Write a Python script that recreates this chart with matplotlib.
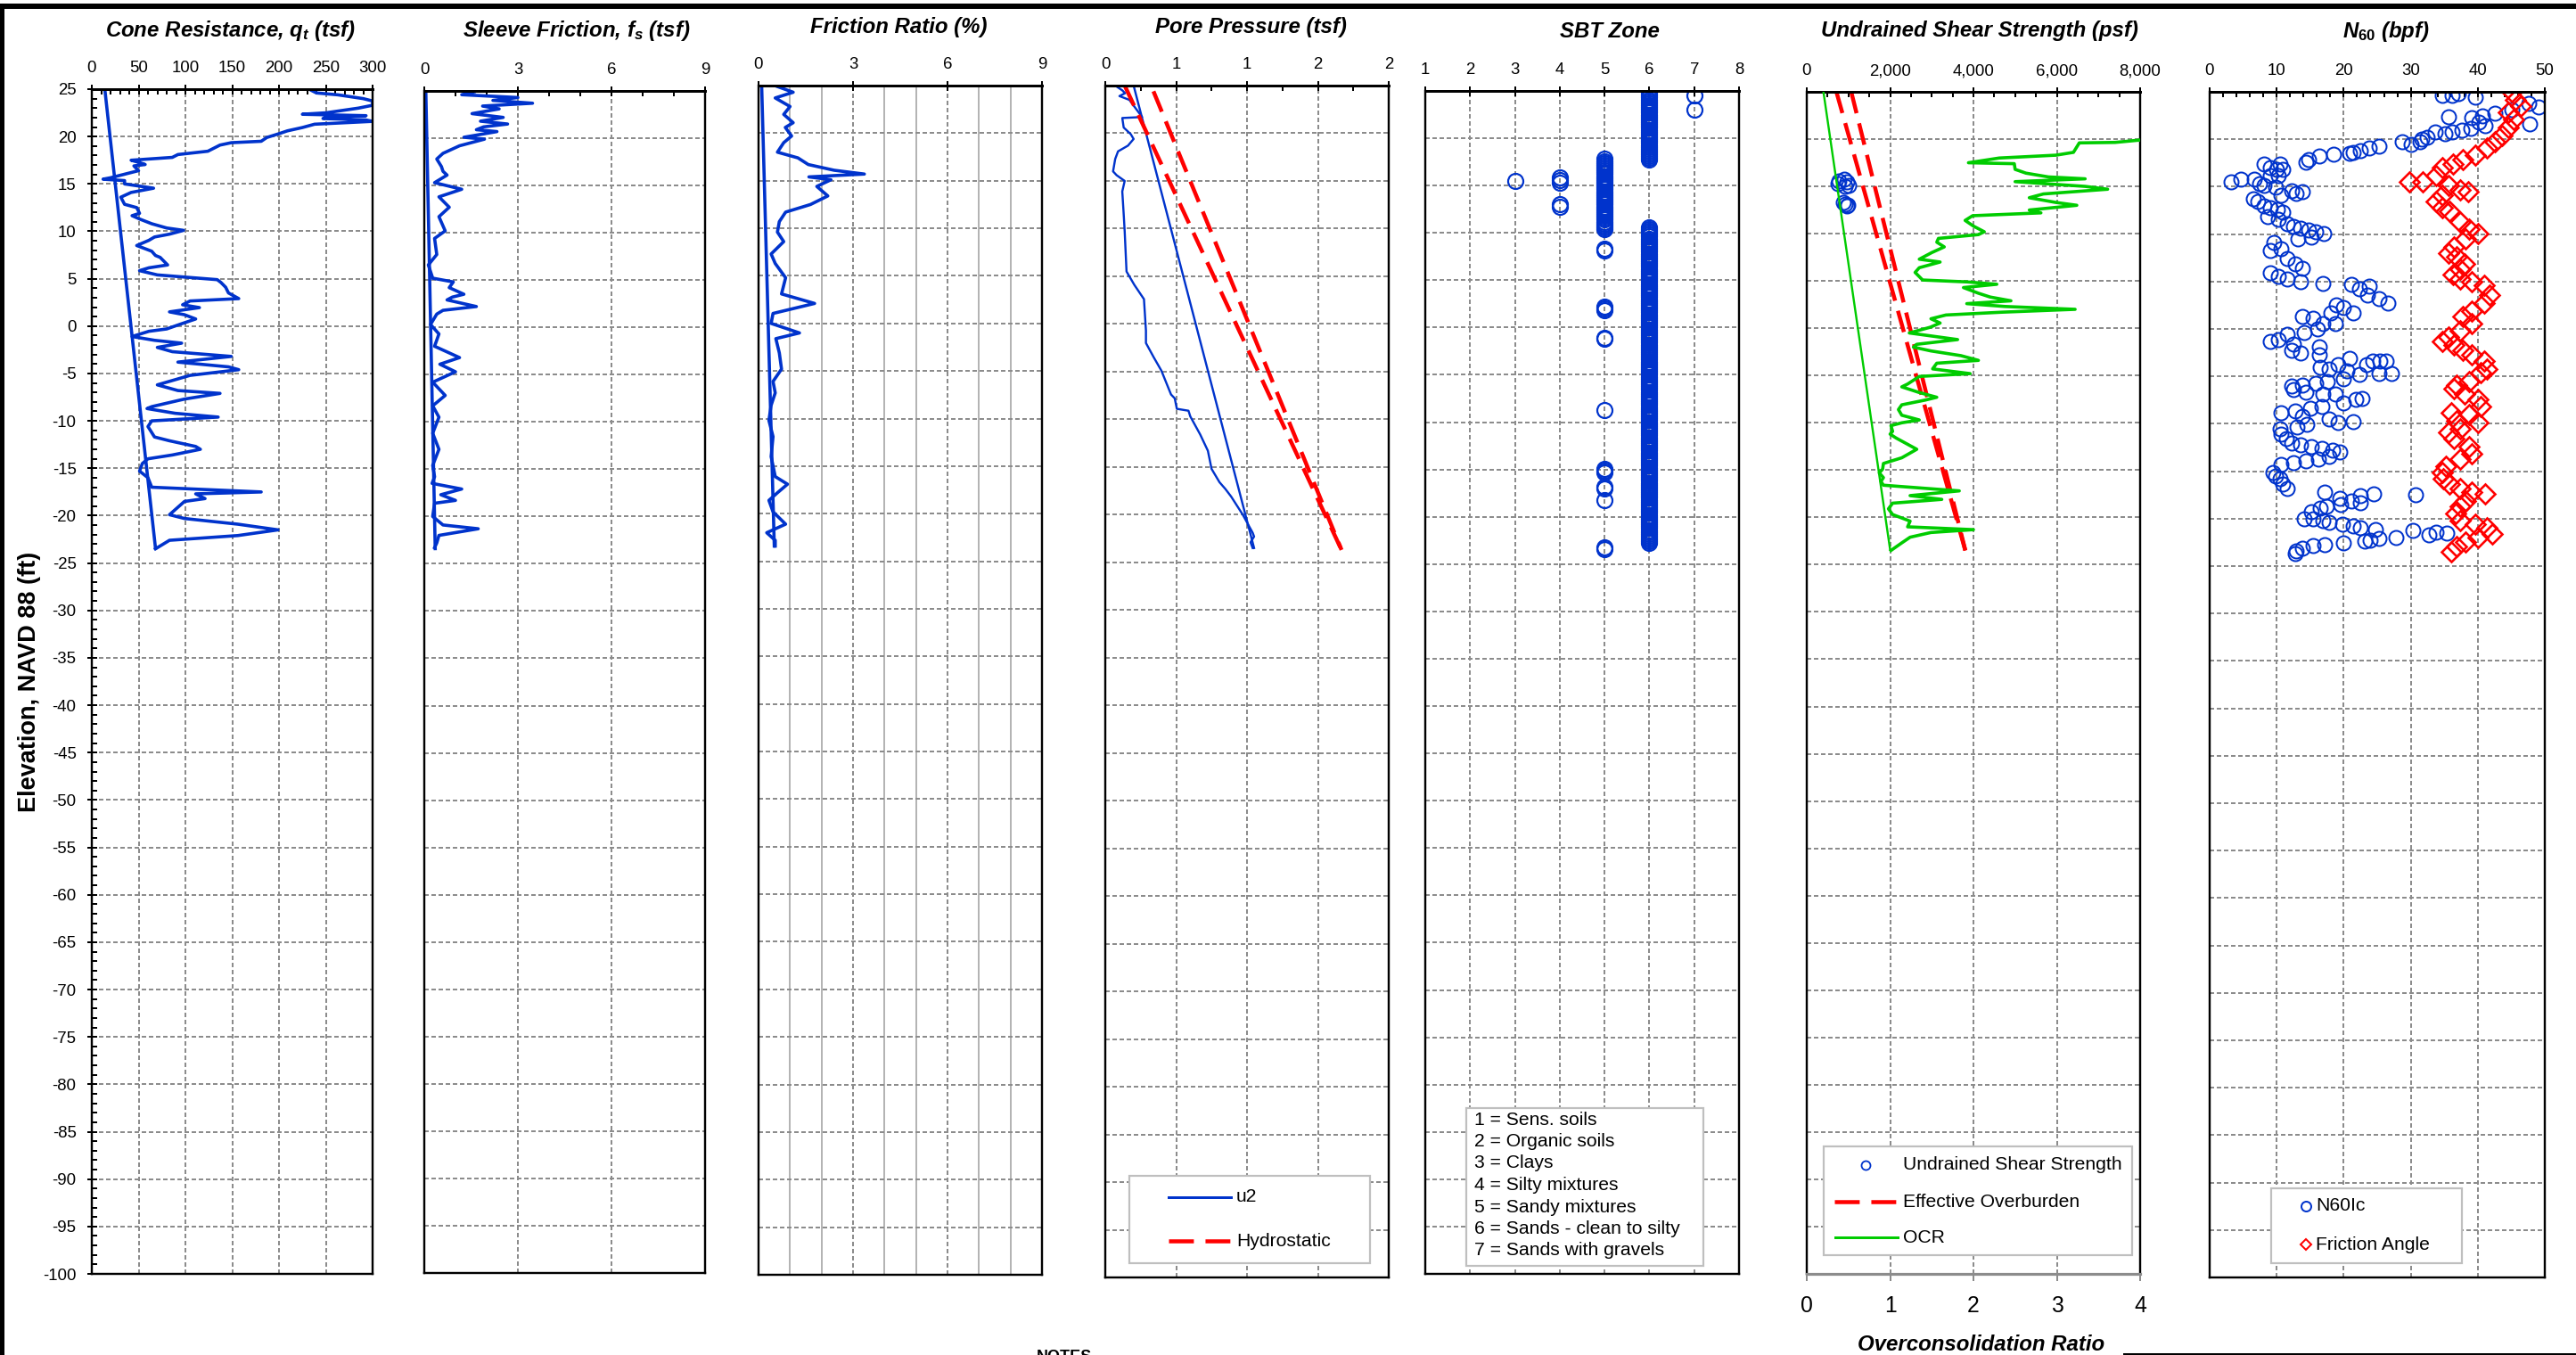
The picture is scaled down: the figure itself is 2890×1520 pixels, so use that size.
import numpy as np
import matplotlib
matplotlib.use("Agg")
import matplotlib.pyplot as plt
from matplotlib.ticker import MultipleLocator, FixedLocator, FixedFormatter, FuncFormatter
from matplotlib.lines import Line2D
from matplotlib.patches import Rectangle

plt.rcParams.update({
    "font.family": ["Liberation Sans", "DejaVu Sans"],
    "mathtext.fontset": "custom",
    "mathtext.it": "Liberation Sans:italic:bold",
    "mathtext.rm": "Liberation Sans:bold",
    "mathtext.bf": "Liberation Sans:bold",
    "axes.unicode_minus": False,
})

W, H, DPI = 2890, 1520, 100
PX = 72.0 / DPI          # points per pixel

BLUE = "#0033CC"
RED = "#FF0000"
GREEN = "#00CC00"
GRID = "#8C8C8C"

# ---------------- CPT sounding data (elevation in ft, NAVD 88) ----------------
qt_elev = [24.85, 24.6, 24.4, 24.0, 23.75, 23.3, 23.0, 22.8, 22.5, 22.35, 22.2, 22.05, 21.9, 21.75,
           21.6, 21.3, 20.95, 20.6, 20.3, 19.9, 19.5, 19.35, 19.1, 18.45, 18.1, 17.8, 17.5, 17.25,
           17.05, 16.9, 16.4, 15.95, 15.65, 15.5, 15.35, 15.0, 14.55, 14.1, 13.6, 12.85, 12.5, 11.9,
           11.65, 11.3, 10.8, 10.35, 10.1, 9.7, 9.4, 9.05, 8.5, 7.9, 7.45, 7.25, 6.45, 6.15, 5.85,
           5.4, 4.9, 4.6, 4.1, 3.5, 2.9, 2.65, 2.25, 1.95, 1.5, 1.2, 0.75, 0.25, -0.3, -0.55, -1.1,
           -1.5, -1.8, -2.25, -2.7, -3.2, -3.8, -4.3, -4.6, -5.2, -6.2, -6.8, -7.1, -7.7, -8.5, -8.7,
           -9.2, -9.6, -10.0, -10.6, -11.7, -12.1, -12.7, -13.0, -13.6, -14.0, -14.5, -15.3, -16.0,
           -17.0, -17.5, -17.7, -18.2, -18.5, -19.9, -20.3, -20.9, -21.5, -22.1, -22.6, -23.5]
qt_tsf = [235, 240, 263, 290, 300, 300, 285, 271, 250, 225, 293, 250, 247, 293,
          300, 238, 225, 209, 200, 187, 181, 149, 137, 124, 92, 86, 42, 51,
          57, 45, 50, 32, 20, 12, 35, 35, 66, 42, 31, 35, 48, 51,
          43, 51, 64, 80, 98, 83, 67, 61, 48, 64, 68, 73, 81, 61, 51,
          70, 134, 138, 143, 146, 157, 105, 97, 115, 83, 99, 111, 96, 80, 61, 43,
          67, 96, 70, 86, 149, 92, 146, 157, 105, 70, 92, 137, 99, 64, 59,
          89, 135, 64, 60, 67, 83, 111, 116, 86, 60, 54, 51, 60,
          64, 181, 111, 121, 99, 83, 99, 156, 199, 156, 83, 68]
qt_trend_elev = [24.9, -23.4]
qt_trend_tsf = [14, 68]

fs_elev = [24.9, 24.6, 24.3, 24.0, 23.7, 23.4, 23.1, 22.6, 22.2, 21.8, 21.5, 21.2, 20.9, 20.7,
           20.1, 19.9, 19.2, 18.4, 17.8, 17.0, 16.5, 16.1, 15.3, 14.6, 13.8, 12.7, 11.7, 10.2,
           9.4, 7.7, 6.6, 5.2, 4.8, 4.2, 3.5, 3.2, 2.9, 2.2, 1.8, 1.4, 0.3, -0.7, -2.0, -3.2,
           -3.9, -4.7, -5.8, -7.2, -8.3, -9.5, -11.2, -12.9, -14.6, -15.8, -16.5, -17.1, -17.7,
           -18.3, -18.6, -20.0, -20.9, -21.3, -22.0, -22.8, -23.3]
fs_tsf = [1.6, 1.2, 3.0, 2.2, 3.47, 1.87, 2.4, 1.53, 2.53, 1.8, 2.67, 1.9, 1.67, 2.33,
          1.27, 1.93, 1.13, 0.6, 0.4, 0.55, 0.6, 0.73, 0.33, 1.2, 0.47, 0.8, 0.47, 0.67,
          0.33, 0.4, 0.13, 0.27, 0.93, 0.8, 1.27, 0.9, 0.73, 1.67, 0.6, 0.4, 0.2, 0.47, 0.33, 1.13,
          0.5, 1.0, 0.27, 0.67, 0.27, 0.47, 0.27, 0.47, 0.27, 0.33, 0.25, 1.2, 0.53,
          1.0, 0.33, 0.27, 0.6, 1.73, 0.47, 0.4, 0.33]
fs_trend_elev = [24.9, -23.4]
fs_trend_tsf = [0.05, 0.35]

rf_elev = [24.9, 24.3, 23.7, 22.8, 21.97, 21.1, 20.6, 19.7, 19.0, 18.0, 17.4, 16.7, 16.1, 15.7,
           15.4, 15.1, 14.4, 13.4, 12.5, 11.7, 10.7, 9.6, 8.6, 7.3, 6.3, 4.8, 3.1, 2.1, 1.05,
           0.0, -1.0, -1.6, -3.1, -4.8, -6.1, -7.3, -8.6, -10.2, -11.9, -14.0, -16.1, -16.9,
           -17.8, -18.6, -19.8, -21.1, -22.0, -22.8, -23.4]
rf_pct = [0.6, 1.1, 0.53, 1.0, 0.8, 1.1, 0.85, 1.05, 0.8, 0.6, 1.25, 1.58, 2.4, 3.36,
          1.6, 2.3, 1.85, 2.2, 1.65, 0.86, 0.66, 0.6, 0.8, 0.4, 0.53, 0.86, 0.73, 1.78, 0.46,
          0.4, 1.3, 0.55, 0.66, 0.73, 0.46, 0.53, 0.4, 0.33, 0.46, 0.4, 0.53, 0.92,
          0.6, 0.33, 0.46, 0.86, 0.26, 0.53, 0.53]
rf_trend_elev = [24.9, -23.4]
rf_trend_pct = [0.1, 0.5]

u2_elev = [24.9, 24.5, 24.2, 23.9, 23.5, 22.5, 21.7, 21.6, 20.6, 19.9, 19.4, 18.7, 18.1, 17.3,
           16.0, 15.6, 15.0, 13.9, 11.5, 9.7, 5.5, 4.1, 2.6, -0.7, -2.0, -3.5, -4.9, -7.4, -7.8,
           -8.9, -9.1, -9.7, -11.6, -13.3, -15.2, -16.6, -17.3, -18.1, -20.0, -21.9, -22.3,
           -22.9, -23.5]
u2_tsf = [0.08, 0.12, 0.14, 0.10, 0.17, 0.22, 0.26, 0.12, 0.13, 0.18, 0.20, 0.16, 0.09, 0.07,
          0.055, 0.08, 0.137, 0.12, 0.13, 0.137, 0.15, 0.205, 0.273, 0.287, 0.287, 0.342, 0.396,
          0.464, 0.49, 0.505, 0.587, 0.60, 0.67, 0.724, 0.75, 0.806, 0.847, 0.888, 0.97, 1.04,
          1.05, 1.025, 1.04]
u2_trend_elev = [25.0, -23.5]
u2_trend_tsf = [0.2, 1.05]
hydro_elev_a = [25.0, -23.7]
hydro_tsf_a = [0.137, 1.667]
hydro_elev_b = [24.4, -23.7]
hydro_tsf_b = [0.34, 1.667]

# Soil behaviour type: continuous runs (zone, top, bottom) plus isolated readings
SBT_STEP = 0.2
sbt_run_zone = [6, 5, 6]
sbt_run_top = [24.9, 17.8, 10.6]
sbt_run_bottom = [17.6, 10.4, -22.8]
sbt_pt_zone = [7, 7, 3, 4, 4, 4, 4, 4, 5, 5, 5, 5, 5, 5, 5, 5, 5, 5, 5, 5, 5, 5, 5, 5]
sbt_pt_elev = [24.5, 23.0, 15.5, 15.9, 15.6, 15.3, 13.0, 12.8, 8.3, 8.1, 2.2, 2.0, 1.8, -1.1,
               -1.2, -8.7, -14.9, -15.1, -15.3, -16.8, -17.0, -18.2, -23.2, -23.4]

su_elev = [15.8, 15.6, 15.5, 15.3, 15.1, 15.0, 13.3, 13.1, 13.0, 12.9]
su_psf = [890, 780, 960, 750, 1000, 920, 870, 930, 990, 960]
ovb_elev_a = [25.0, -23.5]
ovb_psf_a = [711, 3805]
ovb_elev_b = [25.0, -23.5]
ovb_psf_b = [1067, 3805]

ocr_elev = [19.9, 19.65, 19.6, 18.6, 18.3, 18.0, 17.5, 17.4, 16.8, 16.4, 16.0, 15.8, 15.5, 15.0,
            14.7, 14.2, 13.8, 13.3, 13.0, 12.5, 12.2, 11.9, 11.4, 10.8, 10.2, 9.9, 9.5, 9.1, 8.6,
            8.0, 7.3, 7.0, 6.4, 5.9, 5.1, 4.9, 4.65, 4.3, 3.7, 3.3, 2.9, 2.6, 2.3, 2.0, 1.7, 1.4,
            1.0, 0.55, 0.1, -0.5, -1.2, -1.7, -2.0, -2.4, -2.9, -3.4, -3.7, -4.3, -4.8, -5.1,
            -5.9, -6.2, -6.8, -7.3, -7.6, -8.1, -8.6, -9.2, -9.7, -10.0, -10.3, -10.9, -11.2,
            -11.6, -12.8, -13.7, -14.3, -14.9, -15.3, -15.8, -16.2, -16.6, -17.2, -17.7, -18.1,
            -18.5, -19.1, -19.7, -20.4, -21.0, -21.3, -21.6, -22.1, -22.7, -23.5]
ocr = [4.0, 3.7, 3.27, 3.2, 2.99, 2.31, 1.94, 2.49, 2.5, 2.63, 2.9, 3.34, 2.5, 3.34,
       3.61, 2.84, 2.67, 2.99, 3.24, 2.67, 2.81, 1.99, 1.9, 2.0, 2.13, 2.06, 1.58, 1.56, 1.65,
       1.5, 1.35, 1.6, 1.35, 1.3, 1.39, 1.92, 2.28, 1.88, 2.06, 2.2, 2.45, 1.92, 2.38, 3.22, 2.35, 1.67,
       1.49, 1.6, 1.48, 1.23, 1.81, 1.32, 1.28, 1.49, 1.85, 2.06, 1.56, 1.51, 1.96, 1.35,
       1.21, 1.14, 1.35, 1.56, 1.42, 1.14, 1.1, 1.14, 1.35, 1.14, 1.01, 1.03, 1.0,
       1.07, 1.32, 1.14, 0.92, 0.91, 0.87, 0.92, 0.89, 0.92, 1.83, 1.24, 1.62,
       1.03, 0.98, 1.03, 1.24, 1.21, 2.0, 1.49, 1.24, 1.14, 1.01]
ocr_trend_elev = [25.0, -23.4]
ocr_trend = [0.2, 1.0]

n60_elev = [24.6, 24.6, 24.8, 24.4, 23.8, 23.4, 23.1, 22.7, 22.5, 22.4, 22.3, 21.8, 21.4, 21.6,
            20.8, 20.6, 20.8, 21.0, 21.1, 20.2, 20.0, 19.7, 19.5, 19.7, 19.3, 19.1, 18.8, 18.6,
            18.5, 18.4, 18.2, 17.9, 17.6, 17.4, 17.4, 17.0, 16.8, 16.8, 16.2, 16.2, 15.8, 15.8,
            15.5, 15.3, 15.1, 14.9, 14.6, 14.5, 14.3, 14.1, 13.7, 13.4, 13.0, 12.8, 12.6, 12.3,
            11.8, 11.6, 11.1, 10.8, 10.6, 10.4, 10.2, 10.1, 9.5, 9.7, 9.1, 8.3, 8.5, 7.4, 6.9,
            6.4, 5.9, 5.5, 5.3, 5.0, 4.8, 4.7, 4.2, 4.5, 3.6, 3.2, 2.7, 2.5, 2.3, 1.7, 1.7, 1.3,
            1.1, 0.6, 0.6, 0.0, -0.4, -0.6, -1.3, -1.1, -1.6, -2.3, -2.5, -1.9, -2.7, -3.1, -3.4,
            -3.4, -3.4, -3.8, -3.8, -4.0, -4.2, -4.4, -4.8, -4.7, -4.7, -5.3, -5.5, -5.7, -6.0,
            -5.9, -6.4, -6.7, -6.9, -6.9, -7.4, -7.3, -7.8, -8.2, -8.4, -8.8, -8.6, -9.2, -9.5,
            -9.9, -9.8, -10.1, -10.3, -10.5, -11.1, -11.6, -12.0, -12.2, -12.4, -12.6, -12.8,
            -13.0, -13.4, -13.7, -13.9, -14.1, -14.3, -15.1, -15.5, -15.8, -16.4, -16.8, -17.2,
            -17.4, -17.5, -17.6, -17.9, -18.1, -18.3, -18.5, -18.7, -18.9, -19.3, -20.0, -20.0,
            -20.2, -20.4, -20.6, -20.8, -21.0, -21.1, -22.1, -22.3, -22.4, -22.0, -21.2, -21.7,
            -21.4, -21.5, -22.6, -22.7, -22.8, -23.1, -23.4, -23.7]
n60_bpf = [34.7, 36.2, 37.1, 39.6, 47.6, 49.1, 45.1, 42.5, 40.7, 35.6, 39.1, 40.2, 41.1, 47.8,
           33.6, 35.1, 36.2, 37.6, 38.9, 32.5, 31.6, 28.7, 30.0, 31.4, 25.2, 23.8, 22.5, 21.4,
           20.9, 18.5, 16.3, 14.7, 14.3, 10.5, 8.1, 9.0, 10.0, 10.9, 9.0, 10.3, 6.7, 4.7,
           3.2, 7.4, 8.1, 9.8, 12.3, 13.8, 12.9, 10.7, 6.5, 7.2, 8.1, 9.0, 10.1, 10.9,
           8.7, 10.3, 11.6, 12.5, 13.6, 14.7, 15.8, 17.0, 13.2, 15.2, 9.6, 9.0, 10.7, 11.6, 12.7,
           13.8, 9.0, 10.3, 11.6, 13.6, 16.9, 21.2, 22.3, 23.8, 23.6, 25.2, 26.6, 18.9, 20.0, 18.1, 21.4, 13.8,
           15.4, 16.9, 18.7, 16.1, 14.1, 11.6, 9.0, 10.3, 12.5, 12.3, 13.6, 16.3, 16.3, 20.9, 24.3,
           25.4, 26.3, 23.4, 19.2, 16.5, 17.8, 20.5, 22.3, 25.2, 27.1, 20.0, 17.6, 15.8, 12.3,
           13.8, 12.5, 14.3, 16.9, 18.7, 21.8, 22.7, 20.0, 16.7, 15.0, 10.7, 12.7, 13.8, 17.8,
           19.2, 21.4, 14.5, 13.0, 10.5, 10.7, 11.4, 12.3, 13.6, 15.2, 16.7, 18.3,
           19.4, 17.8, 16.2, 14.3, 12.5, 10.7, 9.4, 9.8, 10.5, 10.9, 11.6, 17.2,
           24.5, 30.7, 22.5, 19.4, 21.2, 22.5, 19.6, 17.4, 16.5, 15.2, 14.1, 15.4,
           16.9, 17.8, 19.8, 21.4, 22.5, 24.7, 25.2, 24.0, 23.2, 27.8, 30.3, 32.7,
           33.8, 35.4, 20.0, 17.2, 15.4, 13.8, 12.9, 12.7]

phi_elev = [25.0, 24.2, 23.5, 22.8, 22.1, 21.2, 20.4, 19.7, 19.1, 18.3, 17.9, 17.4, 17.0, 16.2,
            15.5, 15.5, 15.1, 14.7, 14.5, 14.1, 13.4, 12.8, 12.4, 11.3, 10.5, 10.1, 9.5, 8.6,
            8.0, 7.6, 6.9, 6.3, 5.7, 5.3, 5.0, 4.6, 3.6, 2.7, 1.9, 1.3, 0.6, -0.2, -0.8, -1.3,
            -1.7, -2.3, -2.7, -3.4, -4.2, -4.6, -5.5, -5.9, -6.3, -6.9, -7.4, -8.2, -9.0, -8.8,
            -9.7, -9.9, -10.5, -10.9, -11.6, -12.4, -13.2, -13.7, -14.5, -15.1, -15.8, -16.4,
            -16.8, -17.2, -17.4, -18.1, -18.7, -19.5, -20.2, -20.6, -21.0, -21.6, -22.0, -22.5,
            -22.9, -23.5]
phi_deg = [45.1, 45.6, 46.4, 44.5, 45.3, 44.5, 43.6, 42.5, 41.3, 39.6, 37.8, 36.3, 34.7, 33.8,
           31.8, 29.8, 35.6, 37.4, 38.5, 34.7, 33.8, 34.7, 35.8, 37.4, 38.7, 40.0, 38.2, 36.5,
           35.6, 36.9, 38.0, 37.4, 36.3, 37.4, 39.1, 40.9, 41.8, 40.9, 39.1, 37.8, 39.1, 37.4, 35.6, 34.7,
           36.5, 37.8, 39.1, 40.9, 41.3, 40.4, 38.7, 36.9, 36.5, 38.0, 40.0, 40.4, 38.7, 36.0,
           36.9, 40.0, 37.4, 35.6, 36.5, 38.7, 39.1, 37.4, 35.2, 34.7, 34.9, 35.8,
           37.4, 39.1, 41.1, 38.2, 37.4, 36.7, 37.4, 39.6, 41.3, 42.2, 40.0, 38.2,
           36.9, 36.0]

sbt_legend_lines = ["1 = Sens. soils", "2 = Organic soils", "3 = Clays", "4 = Silty mixtures",
                    "5 = Sandy mixtures", "6 = Sands - clean to silty", "7 = Sands with gravels"]

# ---------------- figure and helpers ----------------
fig = plt.figure(figsize=(W / DPI, H / DPI), dpi=DPI)
fig.patch.set_facecolor("white")

TICK_FS = 13.4
TITLE_FS = 17.3
LEG_FS = 15.2
LINE_W = 3.6 * PX


def fx(x):
    return x / W


def fy(y):
    return 1 - y / H


def add_panel(x0, y0, x1, y1):
    return fig.add_axes([x0 / W, 1 - y1 / H, (x1 - x0) / W, (y1 - y0) / H])


def style_panel(ax, xlim, major, minor=None, show_y=False):
    ax.set_xlim(*xlim)
    ax.set_ylim(-100, 25)
    ax.xaxis.set_ticks_position("top")
    ax.xaxis.set_label_position("top")
    ax.xaxis.set_major_locator(MultipleLocator(major))
    if minor:
        ax.xaxis.set_minor_locator(MultipleLocator(minor))
    ax.yaxis.set_major_locator(MultipleLocator(5))
    ax.tick_params(axis="x", which="major", direction="inout", length=11 * PX, width=2 * PX,
                   pad=6.8, labelsize=TICK_FS, top=True, bottom=False, labeltop=True,
                   labelbottom=False)
    ax.tick_params(axis="x", which="minor", direction="in", length=6 * PX, width=2 * PX,
                   top=True, bottom=False)
    if show_y:
        ax.yaxis.set_minor_locator(MultipleLocator(1))
        ax.tick_params(axis="y", which="major", direction="inout", length=11 * PX,
                       width=2 * PX, pad=8.6, labelsize=TICK_FS)
        ax.tick_params(axis="y", which="minor", direction="in", length=6 * PX, width=2 * PX)
    else:
        ax.tick_params(axis="y", which="both", left=False, labelleft=False)
    for side, sp in ax.spines.items():
        sp.set_color("black")
        sp.set_linewidth((3.0 if side == "top" else 2.4) * PX)
    ax.grid(True, which="major", color=GRID, linestyle=(0, (2.5, 1.5)), linewidth=2 * PX)
    ax.set_axisbelow(True)


def panel_title(xc, yb, s):
    fig.text(fx(xc), fy(yb), s, ha="center", va="baseline", fontsize=TITLE_FS,
             fontweight="bold", fontstyle="italic")


def legend_frame(x0, y0, x1, y1):
    fig.add_artist(Rectangle((fx(x0), fy(y1)), (x1 - x0) / W, (y1 - y0) / H,
                             transform=fig.transFigure, facecolor="white",
                             edgecolor="#BFBFBF", linewidth=2.2 * PX, zorder=10))


def legend_line(x0, x1, y, **kw):
    fig.add_artist(Line2D([fx(x0), fx(x1)], [fy(y), fy(y)], transform=fig.transFigure,
                          zorder=11, **kw))


def legend_marker(x, y, **kw):
    fig.add_artist(Line2D([fx(x)], [fy(y)], transform=fig.transFigure, linestyle="none",
                          zorder=11, **kw))


def legend_text(x, y, s):
    fig.text(fx(x), fy(y), s, ha="left", va="center", fontsize=LEG_FS, zorder=12)


HYDRO_DASH = (0, (5.5, 2.6))

# ---------------- 1: cone resistance ----------------
ax1 = add_panel(103, 100, 418, 1429)
style_panel(ax1, (0, 300), 50, 10, show_y=True)
ax1.plot(qt_tsf, qt_elev, color=BLUE, lw=LINE_W)
ax1.plot(qt_trend_tsf, qt_trend_elev, color=BLUE, lw=LINE_W)
panel_title(258, 41.5, r"Cone Resistance, $q_t$ (tsf)")
fig.text(fx(33), fy(765), "Elevation, NAVD 88 (ft)", rotation=90, ha="center", va="center",
         fontsize=19.5, fontweight="bold")

# ---------------- 2: sleeve friction ----------------
ax2 = add_panel(476, 102, 791, 1428)
style_panel(ax2, (0, 9), 3, 1)
ax2.plot(fs_tsf, fs_elev, color=BLUE, lw=LINE_W)
ax2.plot(fs_trend_tsf, fs_trend_elev, color=BLUE, lw=LINE_W)
panel_title(647, 41.5, r"Sleeve Friction, $f_s$ (tsf)")

# ---------------- 3: friction ratio ----------------
ax3 = add_panel(851, 96, 1169, 1430)
style_panel(ax3, (0, 9), 3, 1)
ax3.tick_params(axis="x", which="minor", length=0)
ax3.xaxis.grid(True, which="minor", color="#B4B4B4", linestyle="-", linewidth=2 * PX)
ax3.plot(rf_pct, rf_elev, color=BLUE, lw=LINE_W)
ax3.plot(rf_trend_pct, rf_trend_elev, color=BLUE, lw=LINE_W)
panel_title(1008, 37.5, "Friction Ratio (%)")

# ---------------- 4: pore pressure ----------------
ax4 = add_panel(1240, 96, 1558, 1433)
style_panel(ax4, (0, 2), 0.5, 0.25)
ax4.xaxis.set_major_locator(FixedLocator([0, 0.5, 1.0, 1.5, 2.0]))
ax4.xaxis.set_major_formatter(FixedFormatter(["0", "1", "1", "2", "2"]))
ax4.plot(u2_tsf, u2_elev, color=BLUE, lw=2.4 * PX)
ax4.plot(u2_trend_tsf, u2_trend_elev, color=BLUE, lw=2.4 * PX)
ax4.plot(hydro_tsf_a, hydro_elev_a, color=RED, lw=4.5 * PX, linestyle=HYDRO_DASH)
ax4.plot(hydro_tsf_b, hydro_elev_b, color=RED, lw=4.5 * PX, linestyle=HYDRO_DASH)
panel_title(1403, 37.5, "Pore Pressure (tsf)")

legend_frame(1267, 1319, 1537, 1417)
legend_line(1311, 1381, 1343, color=BLUE, lw=3 * PX)
legend_line(1311, 1381, 1392, color=RED, lw=4.5 * PX, linestyle=(0, (6.2, 2.9)))
legend_text(1387, 1343, "u2")
legend_text(1387, 1392, "Hydrostatic")

# ---------------- 5: SBT zone ----------------
ax5 = add_panel(1599, 102, 1951, 1429)
style_panel(ax5, (1, 8), 1)
sbt_elev, sbt_zone = [], []
for z, top, bot in zip(sbt_run_zone, sbt_run_top, sbt_run_bottom):
    stations = np.arange(top, bot - 1e-9, -SBT_STEP)
    sbt_elev.extend(stations)
    sbt_zone.extend([z] * len(stations))
sbt_elev.extend(sbt_pt_elev)
sbt_zone.extend(sbt_pt_zone)
ax5.plot(sbt_zone, sbt_elev, linestyle="none", marker="o", markersize=17 * PX,
         markerfacecolor="none", markeredgecolor=BLUE, markeredgewidth=2.2 * PX)
panel_title(1806, 41.5, "SBT Zone")

legend_frame(1645, 1243, 1911, 1420)
for i, line in enumerate(sbt_legend_lines):
    fig.text(fx(1654), fy(1256 + i * 24.5), line, ha="left", va="center",
             fontsize=LEG_FS, zorder=12)

# ---------------- 6: undrained shear strength / OCR ----------------
ax6 = add_panel(2027, 103, 2401, 1429)
ax6b = ax6.twiny()
style_panel(ax6, (0, 8000), 2000, 500)
ax6.xaxis.set_major_formatter(FuncFormatter(lambda v, p: f"{v:,.0f}"))
ax6.spines["bottom"].set_visible(False)
ax6.plot(ovb_psf_a, ovb_elev_a, color=RED, lw=4.5 * PX, linestyle=HYDRO_DASH)
ax6.plot(ovb_psf_b, ovb_elev_b, color=RED, lw=4.5 * PX, linestyle=HYDRO_DASH)
ax6.plot(su_psf, su_elev, linestyle="none", marker="o", markersize=16 * PX,
         markerfacecolor="none", markeredgecolor=BLUE, markeredgewidth=2 * PX)

ax6b.set_xlim(0, 4)
ax6b.set_ylim(-100, 25)
ax6b.xaxis.set_ticks_position("bottom")
ax6b.xaxis.set_label_position("bottom")
ax6b.xaxis.set_major_locator(MultipleLocator(1))
ax6b.tick_params(axis="x", which="major", direction="out", length=8 * PX, width=2 * PX,
                 color="#8C8C8C", pad=11.3, labelsize=17.8, bottom=True, top=False,
                 labelbottom=True, labeltop=False)
ax6b.tick_params(axis="x", which="minor", bottom=False, top=False)
for side, sp in ax6b.spines.items():
    sp.set_visible(side == "bottom")
ax6b.spines["bottom"].set_color("#8C8C8C")
ax6b.spines["bottom"].set_linewidth(3.2 * PX)
ax6b.plot(ocr, ocr_elev, color=GREEN, lw=LINE_W)
ax6b.plot(ocr_trend, ocr_trend_elev, color=GREEN, lw=2.4 * PX)
panel_title(2221, 41.5, "Undrained Shear Strength (psf)")
fig.text(fx(2223), fy(1515), "Overconsolidation Ratio", ha="center", va="baseline",
         fontsize=TITLE_FS, fontweight="bold", fontstyle="italic")

legend_frame(2046, 1286, 2392, 1408)
legend_marker(2093, 1307, marker="o", markersize=10 * PX, markerfacecolor="none",
              markeredgecolor=BLUE, markeredgewidth=1.8 * PX)
legend_line(2058, 2129, 1348, color=RED, lw=4.5 * PX, linestyle=(0, (6.2, 2.9)))
legend_line(2059, 2129, 1388, color=GREEN, lw=3 * PX)
legend_text(2135, 1307, "Undrained Shear Strength")
legend_text(2135, 1348, "Effective Overburden")
legend_text(2135, 1388, "OCR")

# ---------------- 7: N60 / friction angle ----------------
ax7 = add_panel(2479, 103, 2855, 1433)
style_panel(ax7, (0, 50), 10, 2)
ax7.plot(n60_bpf, n60_elev, linestyle="none", marker="o", markersize=16 * PX,
         markerfacecolor="none", markeredgecolor=BLUE, markeredgewidth=2 * PX)
ax7.plot(phi_deg, phi_elev, linestyle="none", marker="D", markersize=16 * PX,
         markerfacecolor="none", markeredgecolor=RED, markeredgewidth=2.6 * PX)
panel_title(2677, 42.0, r"$N_{\mathit{60}}$ (bpf)")

legend_frame(2548, 1333, 2762, 1417)
legend_marker(2587, 1353, marker="o", markersize=11 * PX, markerfacecolor="none",
              markeredgecolor=BLUE, markeredgewidth=2 * PX)
legend_marker(2587, 1396, marker="D", markersize=8 * PX, markerfacecolor="none",
              markeredgecolor=RED, markeredgewidth=2 * PX)
legend_text(2598, 1353, "N60Ic")
legend_text(2598, 1396, "Friction Angle")

# ---------------- sheet frame and footer ----------------
fig.add_artist(Rectangle((0, fy(9.5)), 1, 5.5 / H, transform=fig.transFigure,
                         facecolor="black", edgecolor="none", zorder=20))
fig.add_artist(Rectangle((0, 0), 5 / W, fy(4), transform=fig.transFigure,
                         facecolor="black", edgecolor="none", zorder=20))
fig.add_artist(Line2D([fx(2383), 1], [fy(1519), fy(1519)], transform=fig.transFigure,
                      color="black", lw=2 * PX, zorder=20))
fig.text(fx(1163), fy(1514), "NOTES", ha="left", va="top", fontsize=13,
         fontweight="bold")

fig.savefig("out.png", dpi=DPI, facecolor="white")
